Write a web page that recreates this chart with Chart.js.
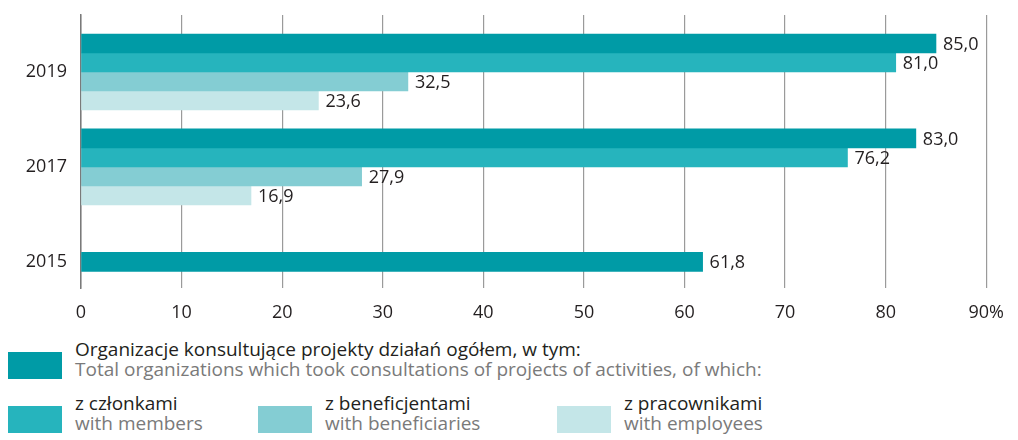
<!DOCTYPE html>
<html>
<head>
<meta charset="utf-8">
<script src="https://cdn.jsdelivr.net/npm/chart.js@4"></script>
<style>
  body { margin: 0; background: #fff; font-family: "Open Sans", sans-serif; }
  #wrap { position: relative; width: 1018px; height: 440px; }
  #chartBox { position: absolute; left: 0; top: 0; width: 1018px; height: 335px; }
  .item { position: absolute; }
  .sw { position: absolute; left: 0; width: 54px; height: 27px; }
  .txt { position: absolute; white-space: nowrap; font-size: 19px; line-height: 20px; }
  .pl { color: #231f20; }
  .en { color: #7a7a7a; }
</style>
</head>
<body>
<div id="wrap">
  <div id="chartBox"><canvas id="c"></canvas></div>
  <div id="legend"></div>
</div>
<script>
const years = [2019, 2017, 2015]
const total = [85.0, 83.0, 61.8]
const members = [81.0, 76.2, null]
const beneficiaries = [32.5, 27.9, null]
const employees = [23.6, 16.9, null]
const xTicks = [0, 10, 20, 30, 40, 50, 60, 70, 80, 90]
const seriesPl = ['Organizacje konsultujące projekty działań ogółem, w tym:', 'z członkami', 'z beneficjentami', 'z pracownikami']
const seriesEn = ['Total organizations which took consultations of projects of activities, of which:', 'with members', 'with beneficiaries', 'with employees']
const colors = ['#009ba6', '#26b4bd', '#84cdd3', '#c4e6e8']

function toPoints(vals){
    return vals.map((v, i) => ({x: v, y: years[i]}))
}

const seriesVals = [total, members, beneficiaries, employees]
const datasets = seriesVals.map((vals, i) => ({
    label: seriesPl[i],
    data: toPoints(vals),
    backgroundColor: colors[i],
    borderWidth: 0,
    barThickness: 19
}))

const valueLabels = {
    id: 'valueLabels',
    afterDatasetsDraw(chart){
        const ctx = chart.ctx
        ctx.save()
        ctx.font = '18px "Open Sans"'
        ctx.fillStyle = '#231f20'
        ctx.textAlign = 'left'
        ctx.textBaseline = 'middle'
        chart.data.datasets.forEach((ds, di) => {
            chart.getDatasetMeta(di).data.forEach((bar, i) => {
                const v = ds.data[i].x
                if (v === null) return
                ctx.fillText(v.toFixed(1).replace('.', ','), bar.x + 7, bar.y + 1)
            })
        })
        ctx.restore()
    }
}

const font = {family: 'Open Sans', size: 18}

new Chart(document.getElementById('c').getContext('2d'), {
    type: 'bar',
    data: {datasets: datasets},
    options: {
        indexAxis: 'y',
        responsive: true,
        maintainAspectRatio: false,
        animation: false,
        skipNull: true,
        layout: {padding: {top: 15, right: 31, left: 0, bottom: 0}},
        plugins: {legend: {display: false}, tooltip: {enabled: false}},
        scales: {
            x: {
                type: 'linear',
                min: 0,
                max: 90,
                afterBuildTicks: s => { s.ticks = xTicks.map(v => ({value: v})) },
                afterFit: s => { s.height = 47 },
                grid: {color: '#9a9a9a', lineWidth: 1.2, drawTicks: false},
                border: {display: false},
                ticks: {
                    font: font, color: '#231f20', padding: 14,
                    maxRotation: 0,
                    callback: v => v === 90 ? '90%' : String(v)
                }
            },
            y: {
                type: 'linear',
                offset: false,
                min: 2014.45,
                max: 2020.2,
                afterBuildTicks: s => { s.ticks = years.map(v => ({value: v})) },
                afterFit: s => { s.width = 81; s.paddingTop = 0; s.paddingBottom = 0 },
                grid: {display: false, drawTicks: false, offset: false},
                border: {display: true, color: '#7a7a7a', width: 1.5},
                ticks: {
                    font: font, color: '#231f20', padding: 14,
                    callback: v => String(v)
                }
            }
        }
    },
    plugins: [valueLabels]
})

// legend built from series names
const legendPos = [
    {left: 8, top: 352},
    {left: 8, top: 406},
    {left: 258, top: 406},
    {left: 557, top: 406}
]
const legend = document.getElementById('legend')
legendPos.forEach((p, i) => {
    const it = document.createElement('div')
    it.className = 'item'
    it.style.left = p.left + 'px'
    it.style.top = p.top + 'px'
    it.innerHTML = '<div class="sw" style="background:' + colors[i] + '"></div>' +
        '<div class="txt" style="left:67px;top:-13px"><span class="pl">' + seriesPl[i] +
        '</span><br><span class="en">' + seriesEn[i] + '</span></div>'
    legend.appendChild(it)
})
</script>
</body>
</html>
